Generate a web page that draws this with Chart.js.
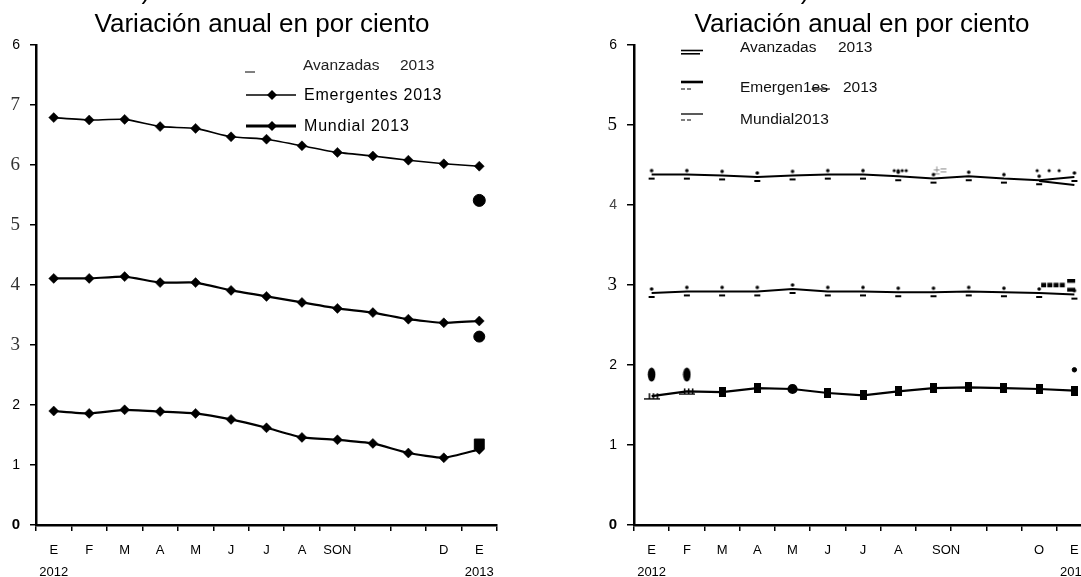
<!DOCTYPE html>
<html><head><meta charset="utf-8">
<script src="https://cdn.jsdelivr.net/npm/chart.js@4.4.1/dist/chart.umd.min.js"></script>
<style>
html,body{margin:0;padding:0;background:#fff;overflow:hidden;width:1081px;height:577px;}
#cl{position:absolute;left:0;top:0;}
#cr{position:absolute;left:540px;top:0;}
</style></head><body>
<canvas id="cl" width="540" height="577"></canvas>
<canvas id="cr" width="560" height="577"></canvas>
<script>
// ---------- data ----------
const monthsLeft  = ['E','F','M','A','M','J','J','A','SON','','','D','E'];
const monthsRight = ['E','F','M','A','M','J','J','A','       SON','','','O','E'];
const yearFirst = '2012';
const yearLast  = '2013';
const leftYTickLabels  = ['0','1','2','3','4','5','6','7','6'];
const rightYTickLabels = ['0','1','2','3','4','5','6'];

// a) growth
const emergentesPIB = [6.79, 6.75, 6.76, 6.64, 6.61, 6.47, 6.43, 6.32, 6.21, 6.15, 6.08, 6.02, 5.98];
const mundialPIB    = [4.11, 4.11, 4.14, 4.04, 4.04, 3.91, 3.81, 3.71, 3.61, 3.54, 3.43, 3.37, 3.40];
const avanzadasPIB  = [1.90, 1.86, 1.92, 1.89, 1.86, 1.76, 1.62, 1.46, 1.42, 1.36, 1.20, 1.12, 1.26];
const emergentes2013 = [5.41];
const mundial2013    = [3.14];
const avanzadas2013  = [1.35];

// b) inflation
const emergentesInf = [4.38, 4.38, 4.37, 4.35, 4.37, 4.38, 4.38, 4.36, 4.33, 4.36, 4.33, 4.31, 4.35];
const mundialInf    = [2.90, 2.92, 2.92, 2.92, 2.95, 2.92, 2.92, 2.91, 2.91, 2.92, 2.91, 2.90, 2.88];
const avanzadasInf  = [1.61, 1.67, 1.66, 1.71, 1.70, 1.65, 1.62, 1.67, 1.71, 1.72, 1.71, 1.70, 1.68];
const avanzadasInfMarks = [1.88, 1.88];          // E, F 2012
const emergentesInfEnd  = [4.30, 4.25];          // O, E
const mundialInfEnd     = [2.99];                // O
const emergentesInfDots = [4.43, 4.42, 4.43];    // A, SON, O
const avanzadasInfEnd   = [1.94];                // E 2013

// ---------- helpers ----------
const N = monthsLeft.length;
function atEnd(vals){ return Array(N - vals.length).fill(null).concat(vals); }
function atStart(vals){ return vals.concat(Array(N - vals.length).fill(null)); }
function atIdx(idxs, vals){ const a = Array(N).fill(null); idxs.forEach((k,i)=>a[k]=vals[i]); return a; }
function catLabels(m){ return m.map((s,i)=> i===0 ? [s, yearFirst] : (i===m.length-1 ? [s, yearLast] : s)); }
function tv(ctx){ return (ctx && ctx.tick) ? ctx.tick.value : null; }

const sans  = '"Liberation Sans", Arial, sans-serif';
const serif = '"Liberation Serif", "Times New Roman", serif';

function mk(w,h,fn){ const cv=document.createElement('canvas'); cv.width=w; cv.height=h; const g=cv.getContext('2d'); g.fillStyle='#000'; fn(g); return cv; }
const dotDash = mk(8,14,g=>{ g.beginPath(); g.arc(4,3,1.8,0,Math.PI*2); g.fill(); g.fillRect(1,10,6,2); });
const rectImg = mk(7,10,g=>g.fillRect(0,0,7,10));
const tickImg = mk(16,8,g=>{ for(let i=0;i<3;i++) g.fillRect(5+i*4,1,1.5,5); g.fillRect(0,6,16,1.5); });
const ellImg  = mk(9,15,g=>{ g.beginPath(); g.ellipse(4.5,7.5,3.8,7,0,0,Math.PI*2); g.fill(); });
const blocksImg = mk(76,13,g=>{ for(let i=0;i<4;i++) g.fillRect(40+i*6.2,3.5,5,4.5); g.fillRect(66,0,8,3.5); g.fillRect(66,8.5,8,4); });
const dots4 = mk(24,6,g=>{ [8,12,16,20].forEach(x=>{g.beginPath(); g.arc(x,3,1.6,0,Math.PI*2); g.fill();}); });
const plusEq = mk(40,14,g=>{ g.fillStyle='#888'; g.font='12px '+sans; g.textBaseline='middle'; g.fillText('±=',20,7); });
const dots3 = mk(46,6,g=>{ [21,33,43].forEach(x=>{g.beginPath(); g.arc(x,3,1.6,0,Math.PI*2); g.fill();}); });

function diamond(c,x,y,r){ c.beginPath(); c.moveTo(x-r,y); c.lineTo(x,y-r); c.lineTo(x+r,y); c.lineTo(x,y+r); c.closePath(); c.fill(); }

function xScale(labelsArr){
  return {
    type:'category', labels:labelsArr, offset:true,
    grid:{offset:true, drawOnChartArea:false, drawTicks:true, tickLength:6, color:'#000', lineWidth:1.5},
    border:{display:true, color:'#000', width:2.5},
    ticks:{autoSkip:false, maxRotation:0, color:'#000', padding:8,
           font:{family:sans, size:13, lineHeight:1.7}},
    afterFit(s){ s.height = 52; }
  };
}

// ---------- left chart ----------
const leftText = {
  id:'leftText',
  afterDraw(chart){
    const c = chart.ctx; c.save();
    c.fillStyle='#000'; c.textAlign='center'; c.textBaseline='alphabetic';
    c.font='26px '+sans;
    c.fillText('a) Crecimiento del PIB', 257, -1);
    c.fillText('Variación anual en por ciento', 262, 32);
    // legend
    c.textAlign='left'; c.textBaseline='middle';
    c.fillStyle='#222'; c.font='15.5px '+sans;
    c.fillText('Avanzadas', 303, 66);
    c.fillText('2013', 400, 66);
    c.strokeStyle='#000'; c.lineWidth=1;
    c.beginPath(); c.moveTo(245,72); c.lineTo(255,72); c.stroke();
    c.fillStyle='#000';
    c.lineWidth=1.6; c.beginPath(); c.moveTo(246,95); c.lineTo(296,95); c.stroke();
    diamond(c,272,95,5);
    c.lineWidth=3; c.beginPath(); c.moveTo(246,126); c.lineTo(296,126); c.stroke();
    diamond(c,272,126,5);
    c.font='16px '+sans; c.letterSpacing='0.8px';
    c.fillText('Emergentes 2013', 304, 96);
    c.fillText('Mundial 2013', 304, 127);
    c.restore();
  }
};

new Chart(document.getElementById('cl'), {
  type:'line',
  data:{
    labels: catLabels(monthsLeft),
    datasets:[
      {label:'Emergentes', data:emergentesPIB, borderColor:'#000', borderWidth:1.6, tension:0.15,
       pointStyle:'rectRot', pointRadius:5, pointBackgroundColor:'#000', pointBorderColor:'#000', pointBorderWidth:0.5},
      {label:'Mundial', data:mundialPIB, borderColor:'#000', borderWidth:2.2, tension:0.15,
       pointStyle:'rectRot', pointRadius:5, pointBackgroundColor:'#000', pointBorderColor:'#000', pointBorderWidth:0.5},
      {label:'Avanzadas', data:avanzadasPIB, borderColor:'#000', borderWidth:2.2, tension:0.15,
       pointStyle:'rectRot', pointRadius:5, pointBackgroundColor:'#000', pointBorderColor:'#000', pointBorderWidth:0.5},
      {label:'Emergentes 2013', data:atEnd(emergentes2013), showLine:false,
       pointStyle:'circle', pointRadius:6, pointBackgroundColor:'#000', pointBorderColor:'#000'},
      {label:'Mundial 2013', data:atEnd(mundial2013), showLine:false,
       pointStyle:'circle', pointRadius:5.5, pointBackgroundColor:'#000', pointBorderColor:'#000'},
      {label:'Avanzadas 2013', data:atEnd(avanzadas2013), showLine:false,
       pointStyle:'rect', pointRadius:7, pointBackgroundColor:'#000', pointBorderColor:'#000'}
    ]
  },
  options:{
    responsive:false, animation:false, devicePixelRatio:1,
    layout:{padding:{top:45, right:43, left:0, bottom:0}},
    plugins:{legend:{display:false}, tooltip:{enabled:false}, title:{display:false}},
    scales:{
      x: xScale(catLabels(monthsLeft)),
      y: {
        min:0, max:8,
        grid:{drawOnChartArea:false, drawTicks:true, tickLength:6, color:'#000', lineWidth:1.5},
        border:{display:true, color:'#000', width:2.5},
        ticks:{stepSize:1, padding:10,
          callback:(v)=>leftYTickLabels[v],
          color:(ctx)=>{ const v=tv(ctx); return (v!==null&&v>=3&&v<=7)?'#333':'#000'; },
          font:(ctx)=>{ const v=tv(ctx);
            if(v===0) return {family:sans, size:15, weight:'bold'};
            if(v!==null && v>=3 && v<=7) return {family:serif, size:19};
            return {family:sans, size:14}; }
        },
        afterFit(s){ s.width = 36; }
      }
    }
  },
  plugins:[leftText]
});

// ---------- right chart ----------
const rightText = {
  id:'rightText',
  afterDraw(chart){
    const c = chart.ctx; c.save();
    c.fillStyle='#000'; c.textAlign='center'; c.textBaseline='alphabetic';
    c.font='26px '+sans;
    c.fillText('b) Inflación', 310, -1);
    c.fillText('Variación anual en por ciento', 322, 32);
    c.textAlign='left'; c.textBaseline='middle';
    c.font='15.5px '+sans; c.fillStyle='#111';
    c.strokeStyle='#000';
    // Avanzadas
    c.lineWidth=1.6;
    c.beginPath(); c.moveTo(141,50.5); c.lineTo(163,50.5); c.stroke();
    c.beginPath(); c.moveTo(141,53.8); c.lineTo(160,53.8); c.stroke();
    c.fillText('Avanzadas', 200, 48);
    c.fillText('2013', 298, 48);
    // Emergentes
    c.lineWidth=2.6;
    c.beginPath(); c.moveTo(141,82); c.lineTo(163,82); c.stroke();
    c.lineWidth=1;
    c.beginPath(); c.moveTo(141,89); c.lineTo(145,89); c.moveTo(147,89); c.lineTo(151,89); c.stroke();
    c.fillText('Emergen1es', 200, 88);
    const wPre = c.measureText('Emergen1').width, wAll = c.measureText('Emergen1es').width;
    c.lineWidth=1.2; c.beginPath(); c.moveTo(200+wPre, 89); c.lineTo(200+wAll+2, 89); c.stroke();
    c.fillText('2013', 303, 88);
    // Mundial
    c.lineWidth=1.3;
    c.beginPath(); c.moveTo(141,114); c.lineTo(163,114); c.stroke();
    c.lineWidth=1;
    c.beginPath(); c.moveTo(141,120); c.lineTo(145,120); c.moveTo(147,120); c.lineTo(151,120); c.stroke();
    c.fillText('Mundial2013', 200, 120);
    c.restore();
  }
};

new Chart(document.getElementById('cr'), {
  type:'line',
  data:{
    labels: catLabels(monthsRight),
    datasets:[
      {label:'Emergentes', data:emergentesInf, borderColor:'#000', borderWidth:2, tension:0,
       pointStyle:dotDash, pointRadius:4, clip:false},
      {label:'Mundial', data:mundialInf, borderColor:'#000', borderWidth:2, tension:0,
       pointStyle:dotDash, pointRadius:4, clip:false},
      {label:'Avanzadas', data:avanzadasInf, borderColor:'#000', borderWidth:2.2, tension:0,
       pointStyle:(ctx)=> ctx.dataIndex<2 ? tickImg : (ctx.dataIndex===4 ? 'circle' : rectImg),
       pointRadius:4, pointBackgroundColor:'#000', pointBorderColor:'#000', clip:false},
      {label:'Avanzadas marcas', data:atStart(avanzadasInfMarks), showLine:false, pointStyle:ellImg, pointRadius:5, clip:false},
      {label:'Emergentes fin', data:atEnd(emergentesInfEnd), borderColor:'#000', borderWidth:2, pointRadius:0, clip:false},
      {label:'Mundial fin', data:atIdx([11], mundialInfEnd), showLine:false, pointStyle:blocksImg, pointRadius:5, clip:false},
      {label:'Emergentes puntos', data:atIdx([7,8,11], emergentesInfDots), showLine:false,
       pointStyle:(ctx)=> ctx.dataIndex===7 ? dots4 : (ctx.dataIndex===8 ? plusEq : dots3), pointRadius:4, clip:false},
      {label:'Avanzadas fin', data:atEnd(avanzadasInfEnd), showLine:false, pointStyle:'circle', pointRadius:2.2,
       pointBackgroundColor:'#000', pointBorderColor:'#000', clip:false}
    ]
  },
  options:{
    responsive:false, animation:false, devicePixelRatio:1,
    layout:{padding:{top:45, right:8, left:0, bottom:0}},
    plugins:{legend:{display:false}, tooltip:{enabled:false}, title:{display:false}},
    scales:{
      x: xScale(catLabels(monthsRight)),
      y: {
        min:0, max:6,
        grid:{drawOnChartArea:false, drawTicks:true, tickLength:7, color:'#000', lineWidth:1.5},
        border:{display:true, color:'#000', width:2.5},
        ticks:{stepSize:1, padding:10,
          callback:(v)=>rightYTickLabels[v],
          color:(ctx)=>{ const v=tv(ctx); return v===4 ? '#444' : '#000'; },
          font:(ctx)=>{ const v=tv(ctx);
            if(v===0) return {family:sans, size:15, weight:'bold'};
            if(v===5 || v===3) return {family:serif, size:19};
            return {family:sans, size:14}; }
        },
        afterFit(s){ s.width = 94; }
      }
    }
  },
  plugins:[rightText]
});
</script>
</body></html>
